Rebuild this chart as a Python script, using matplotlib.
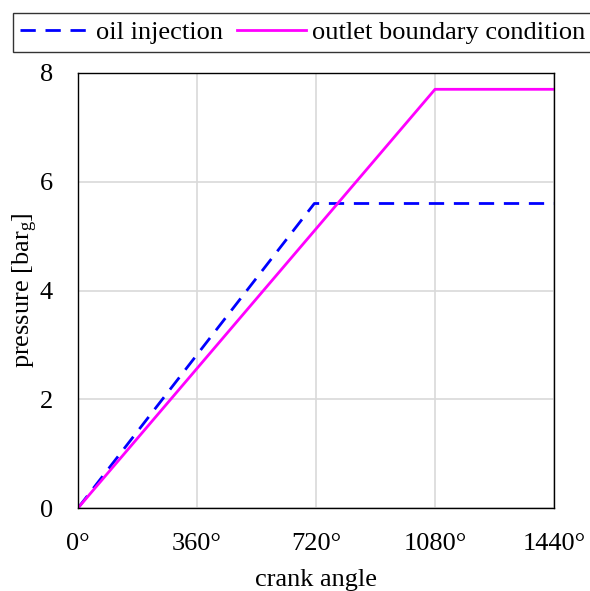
import numpy as np
import matplotlib.pyplot as plt

plt.rcParams['font.family'] = ['Liberation Serif', 'DejaVu Serif']
plt.rcParams['mathtext.fontset'] = 'custom'
plt.rcParams['mathtext.rm'] = 'Liberation Serif'
plt.rcParams['mathtext.it'] = 'Liberation Serif'

# data
oil_x = [0, 715, 1440]
oil_y = [0, 5.6, 5.6]
outlet_x = [0, 1080, 1440]
outlet_y = [0, 7.7, 7.7]
xticks = [0, 360, 720, 1080, 1440]
xticklabels = ['0°', '360°', '720°', '1080°', '1440°']
yticks = [0, 2, 4, 6, 8]

fig = plt.figure(figsize=(5.9, 5.91), dpi=100)
ax = fig.add_axes([0.1322, 0.1404, 0.8068, 0.7361])

ax.plot(oil_x, oil_y, color='#0000ff', linestyle=(0, (5.5, 3.5)), linewidth=2.0, label='oil injection')
ax.plot(outlet_x, outlet_y, color='#ff00ff', linewidth=2.0, label='outlet boundary condition')

ax.set_xlim(0, 1440)
ax.set_ylim(0, 8)
ax.set_xticks(xticks)
ax.set_xticklabels(xticklabels)
ax.set_yticks(yticks)
ax.tick_params(labelsize=19, length=0)
ax.tick_params(axis='x', pad=18)
ax.tick_params(axis='y', pad=18)
ax.grid(True, color='#d9d9d9', linewidth=1.2)
ax.set_axisbelow(True)
for s in ax.spines.values():
    s.set_color('black')
    s.set_linewidth(1.0)

ax.set_xlabel('crank angle', fontsize=19, labelpad=10)
ax.set_ylabel('pressure [bar$_\\mathrm{g}$]', fontsize=19, labelpad=0)

leg = fig.legend(loc='upper left', bbox_to_anchor=(12.5 / 590, 1 - 13 / 591), ncol=2,
                 fontsize=19, frameon=True, fancybox=False, edgecolor='black',
                 handlelength=2.6, handletextpad=0.25, columnspacing=0.55,
                 borderpad=0.3, borderaxespad=0)
leg.get_frame().set_linewidth(1.0)

fig.savefig('out.png', dpi=100)
